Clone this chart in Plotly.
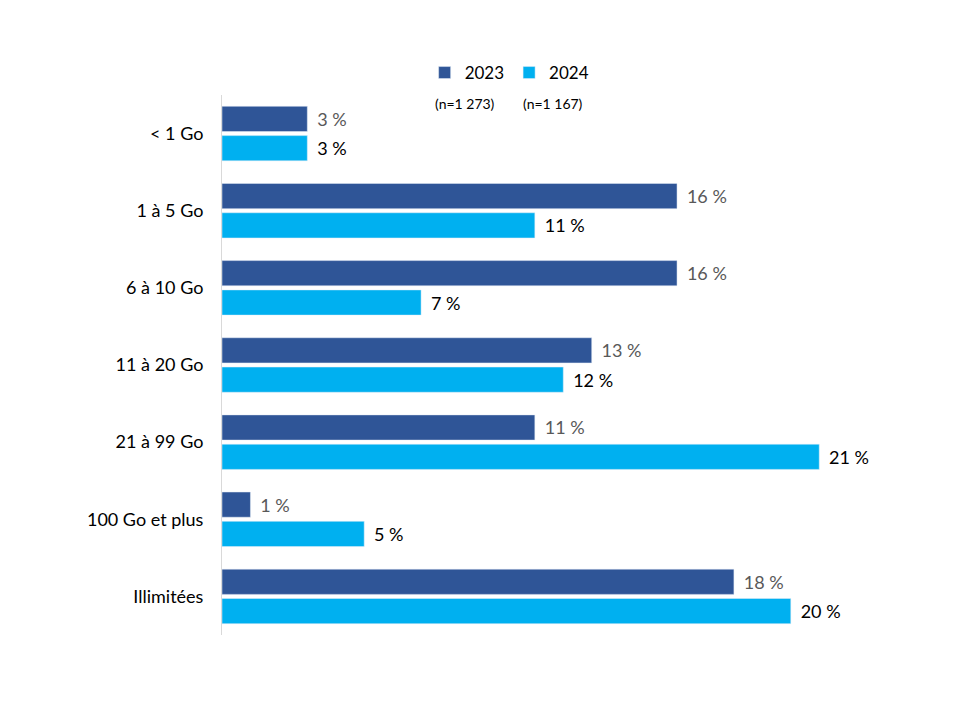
import plotly.graph_objects as go

categories = ["< 1 Go", "1 à 5 Go", "6 à 10 Go", "11 à 20 Go", "21 à 99 Go", "100 Go et plus", "Illimitées"]
values_2023 = [3, 16, 16, 13, 11, 1, 18]
values_2024 = [3, 11, 7, 12, 21, 5, 20]
series_names = ["2023", "2024"]
sample_sizes = ["(n=1 273)", "(n=1 167)"]

FONT = "Lato, Calibri, Carlito, 'Liberation Sans', sans-serif"
# page body adds an 8px offset; margins are set so the plot lands at the reference spot
L, R, T, B = 214, 35, 87, 93
W, H = 960, 720

fig = go.Figure()
fig.add_trace(go.Bar(
    y=categories, x=values_2023, orientation="h", name=series_names[0],
    marker=dict(color="#2F5597"),
    text=[f"\u00a0\u2009{v} %" for v in values_2023], textposition="outside",
    textfont=dict(family=FONT, size=18, color="#595959"),
    cliponaxis=False,
))
fig.add_trace(go.Bar(
    y=categories, x=values_2024, orientation="h", name=series_names[1],
    marker=dict(color="#00B0F0"),
    text=[f"\u00a0\u2009{v} %" for v in values_2024], textposition="outside",
    textfont=dict(family=FONT, size=18, color="#000000"),
    cliponaxis=False,
))

fig.update_layout(
    width=W, height=H,
    paper_bgcolor="white", plot_bgcolor="white",
    margin=dict(l=L, r=R, t=T, b=B, autoexpand=False),
    barmode="group", bargap=0.24, bargroupgap=0.14,
    font=dict(family=FONT, size=17, color="#000000"),
    showlegend=True,
    legend=dict(
        orientation="h", xref="container", yref="container",
        x=0.434, y=1 - 65 / H, xanchor="left", yanchor="middle",
        font=dict(family=FONT, size=17, color="#000000"),
        traceorder="normal", itemwidth=30,
    ),
    xaxis=dict(range=[0, 25], visible=False, fixedrange=True),
    yaxis=dict(
        autorange="reversed", showgrid=False, showline=True,
        linecolor="#D9D9D9", linewidth=1, ticks="", ticklabelstandoff=14,
        tickfont=dict(family=FONT, size=18, color="#000000"),
    ),
)

for i, txt in enumerate(sample_sizes):
    fig.add_annotation(
        xref="paper", yref="paper",
        x=([457, 545][i] - L) / (W - L - R),
        y=1 + (T - 95) / (H - T - B),
        text=txt, showarrow=False, xanchor="center", yanchor="middle",
        font=dict(family=FONT, size=14, color="#000000"),
    )

fig.write_html("out.html")
